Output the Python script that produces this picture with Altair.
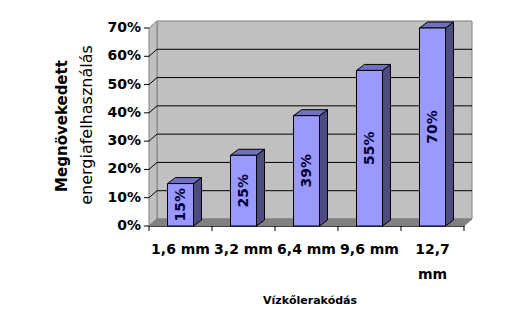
import altair as alt
import pandas as pd

# ---- data ----
categories = ["1,6 mm", "3,2 mm", "6,4 mm", "9,6 mm", "12,7 mm"]
values = [0.15, 0.25, 0.39, 0.55, 0.70]
y_ticks = [0.0, 0.1, 0.2, 0.3, 0.4, 0.5, 0.6, 0.7]
y_title_1 = "Megnövekedett"
y_title_2 = "energiafelhasználás"
x_title = "Vízkőlerakódás"

# ---- layout / style constants ----
W, H = 315, 198
N = len(categories)
YMAX = max(y_ticks)
PX_X = W / N
PX_Y = H / YMAX
BAR_HALF = 13 / PX_X
BAR_DX, BAR_DY = 8 / PX_X, 6 / PX_Y
WALL_DX, WALL_DY = 8 / PX_X, 7 / PX_Y
FONT = "DejaVu Sans"

xs = alt.Scale(domain=[0, N], nice=False, zero=False)
ys = alt.Scale(domain=[0, YMAX], nice=False)
x_axis = alt.Axis(labels=False, ticks=False, title=None, grid=False, domainColor="black")
y_axis = alt.Axis(labels=False, ticks=False, title=None, grid=False, domainColor="black")


def X(f):
    return alt.X(f, scale=xs, axis=x_axis)


def Y(f):
    return alt.Y(f, scale=ys, axis=y_axis)


# ---- derived tables ----
centers = [i + 0.5 for i in range(N)]
bars = pd.DataFrame({
    "cat": categories,
    "v": values,
    "c": centers,
    "xl": [c - BAR_HALF for c in centers],
    "xr": [c + BAR_HALF for c in centers],
    "mid": [v / 2 for v in values],
    "lab": [f"{round(v*100)}%" for v in values],
})

side_rows, top_rows = [], []
for cat, v, c in zip(categories, values, centers):
    xl, xr = c - BAR_HALF, c + BAR_HALF
    side_rows.append({"cat": cat, "x": xr, "y": 0.0, "y2": v})
    side_rows.append({"cat": cat, "x": xr + BAR_DX, "y": BAR_DY, "y2": v + BAR_DY})
    top_rows.append({"cat": cat, "y": v, "x": xl, "x2": xr})
    top_rows.append({"cat": cat, "y": v + BAR_DY, "x": xl + BAR_DX, "x2": xr + BAR_DX})
side = pd.DataFrame(side_rows)
top = pd.DataFrame(top_rows)

wall = pd.DataFrame({"x": [WALL_DX], "x2": [N + WALL_DX], "y": [WALL_DY], "y2": [YMAX + WALL_DY]})
left_wall = pd.DataFrame({"x": [0, WALL_DX], "y": [0, WALL_DY], "y2": [YMAX, YMAX + WALL_DY]})
floor = pd.DataFrame({"y": [0, WALL_DY], "x": [0, WALL_DX], "x2": [N, N + WALL_DX]})
grid_vals = [t for t in y_ticks if 0 < t < YMAX]
grid_back = pd.DataFrame({"x": [WALL_DX] * len(grid_vals), "x2": [N + WALL_DX] * len(grid_vals),
                          "y": [g + WALL_DY for g in grid_vals]})
grid_side = pd.DataFrame({"x": [0] * len(grid_vals), "x2": [WALL_DX] * len(grid_vals),
                          "y": grid_vals, "y2": [g + WALL_DY for g in grid_vals]})
yt = pd.DataFrame({"y": y_ticks, "x": [0] * len(y_ticks),
                   "lab": [f"{round(t*100)}%" for t in y_ticks]})
xt = pd.DataFrame({"x": list(range(N + 1))})

# ---- layers ----
wall_l = alt.Chart(wall).mark_rect(fill="#C0C0C0", stroke="#808080", strokeWidth=1).encode(
    x=X("x:Q"), x2="x2:Q", y=Y("y:Q"), y2="y2:Q")
left_l = alt.Chart(left_wall).mark_area(fill="#C0C0C0", stroke="#808080", strokeWidth=1,
                                        orient="vertical").encode(
    x=X("x:Q"), y=Y("y:Q"), y2="y2:Q")
floor_l = alt.Chart(floor).mark_area(fill="#808080", stroke="#808080", strokeWidth=1,
                                     orient="horizontal").encode(
    y=Y("y:Q"), x=X("x:Q"), x2="x2:Q")
gb_l = alt.Chart(grid_back).mark_rule(color="black", strokeWidth=1).encode(
    x=X("x:Q"), x2="x2:Q", y=Y("y:Q"))
gs_l = alt.Chart(grid_side).mark_rule(color="black", strokeWidth=1).encode(
    x=X("x:Q"), x2="x2:Q", y=Y("y:Q"), y2="y2:Q")

ytick_l = alt.Chart(yt).mark_rule(color="black", strokeWidth=1, xOffset=-5).encode(
    x=X("x:Q"), x2="x:Q", y=Y("y:Q"))
ylab_l = alt.Chart(yt).mark_text(font=FONT, fontSize=14, fontWeight="bold", color="black",
                                 align="right", baseline="middle", dx=-8).encode(
    x=X("x:Q"), y=Y("y:Q"), text="lab:N")
xtick_l = alt.Chart(xt).mark_rule(color="black", strokeWidth=1).encode(
    x=X("x:Q"), y=alt.value(H), y2=alt.value(H + 5))

side_l = alt.Chart(side).mark_area(fill="#4C4C80", stroke="black", strokeWidth=1,
                                   orient="vertical").encode(
    x=X("x:Q"), y=Y("y:Q"), y2="y2:Q", detail="cat:N")
top_l = alt.Chart(top).mark_area(fill="#7070C0", stroke="black", strokeWidth=1,
                                 orient="horizontal").encode(
    y=Y("y:Q"), x=X("x:Q"), x2="x2:Q", detail="cat:N")
front_l = alt.Chart(bars).mark_rect(fill="#9999FF", stroke="black", strokeWidth=1).encode(
    x=X("xl:Q"), x2="xr:Q", y=Y("v:Q"), y2=alt.datum(0))
lab_l = alt.Chart(bars).mark_text(angle=270, font=FONT, fontSize=14, fontWeight="bold",
                                  color="#000033", align="center", baseline="middle").encode(
    x=X("c:Q"), y=Y("mid:Q"), text="lab:N")

cat_l = alt.Chart(bars).transform_calculate(
    t="length(datum.cat) > 6 ? split(datum.cat, ' ') : datum.cat"
).mark_text(font=FONT, fontSize=14, fontWeight="bold", color="black", align="center",
            baseline="top", lineHeight=25).encode(
    x=X("c:Q"), y=alt.value(H + 17), text="t:N")

t1 = alt.Chart(pd.DataFrame({"t": [y_title_1]})).mark_text(
    angle=270, font=FONT, fontSize=15, fontWeight="bold", color="black",
    align="center", baseline="middle").encode(x=alt.value(-87), y=alt.value(98), text="t:N")
t2 = alt.Chart(pd.DataFrame({"t": [y_title_2]})).mark_text(
    angle=270, font=FONT, fontSize=16, fontWeight="normal", color="black",
    align="center", baseline="middle").encode(x=alt.value(-62), y=alt.value(97), text="t:N")
t3 = alt.Chart(pd.DataFrame({"t": [x_title]})).mark_text(
    font=FONT, fontSize=11, fontWeight="bold", color="black",
    align="center", baseline="middle").encode(x=alt.value(161), y=alt.value(273), text="t:N")

chart = alt.layer(
    wall_l, left_l, floor_l, gb_l, gs_l, ytick_l, ylab_l, xtick_l,
    side_l, top_l, front_l, lab_l, cat_l, t1, t2, t3
).properties(
    width=W, height=H,
    autosize=alt.AutoSizeParams(type="none"),
    padding={"left": 149, "top": 28, "right": 49, "bottom": 106},
).configure_view(stroke=None).configure(background="white")

chart.save("out.html", embed_options={"renderer": "svg", "actions": False})
